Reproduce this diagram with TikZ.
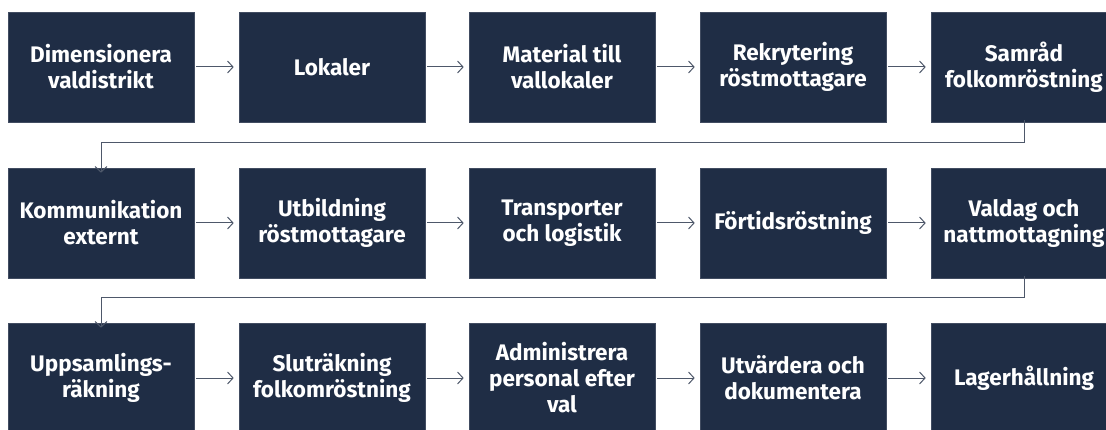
\documentclass[tikz,border=0pt]{standalone}
\usepackage{fontspec}
\setmainfont{Fira Sans}
\usetikzlibrary{arrows.meta}
\definecolor{boxnavy}{HTML}{1F2D45}
\definecolor{linegray}{HTML}{4E586A}
\tikzset{
  x=1pt, y=-1pt,
  stepbox/.style={fill=boxnavy, draw=boxnavy!85!white, line width=0.6pt, minimum width=186pt, minimum height=110pt,
    inner sep=0pt, align=center, text=white, font=\bfseries\fontsize{22.5}{26}\selectfont},
  flow/.style={draw=linegray, line width=1pt, -{Straight Barb[length=5.5pt, width=12pt, line width=1pt]}}
}
\begin{document}
\begin{tikzpicture}
\useasboundingbox (0,0) rectangle (1106,430);
% row 1
\node[stepbox] (a1) at (101,67) {Dimensionera\\valdistrikt};
\node[stepbox] (a2) at (332,67) {Lokaler};
\node[stepbox] (a3) at (562,67) {Material till\\vallokaler};
\node[stepbox] (a4) at (793,67) {Rekrytering\\röstmottagare};
\node[stepbox] (a5) at (1024,67) {Samråd\\folkomröstning};
% row 2
\node[stepbox] (b1) at (101,223) {Kommunikation\\externt};
\node[stepbox] (b2) at (332,223) {Utbildning\\röstmottagare};
\node[stepbox] (b3) at (562,223) {Transporter\\och logistik};
\node[stepbox] (b4) at (793,223) {Förtidsröstning};
\node[stepbox] (b5) at (1024,223) {Valdag och\\nattmottagning};
% row 3
\node[stepbox] (c1) at (101,378) {Uppsamlings-\\räkning};
\node[stepbox] (c2) at (332,378) {Sluträkning\\folkomröstning};
\node[stepbox] (c3) at (562,378) {Administrera\\personal efter\\val};
\node[stepbox] (c4) at (793,378) {Utvärdera och\\dokumentera};
\node[stepbox] (c5) at (1024,378) {Lagerhållning};
% horizontal arrows
\foreach \r in {a,b,c}{
  \draw[flow] ([xshift=2pt]\r1.east) -- ([xshift=-5pt]\r2.west);
  \draw[flow] ([xshift=2pt]\r2.east) -- ([xshift=-5pt]\r3.west);
  \draw[flow] ([xshift=2pt]\r3.east) -- ([xshift=-5pt]\r4.west);
  \draw[flow] ([xshift=2pt]\r4.east) -- ([xshift=-5pt]\r5.west);
}
% row returns
\draw[flow] ([yshift=2pt]a5.south) -- ++(0,22) -| ([yshift=-5pt]b1.north);
\draw[flow] ([yshift=2pt]b5.south) -- ++(0,21) -| ([yshift=-5pt]c1.north);
\end{tikzpicture}
\end{document}
